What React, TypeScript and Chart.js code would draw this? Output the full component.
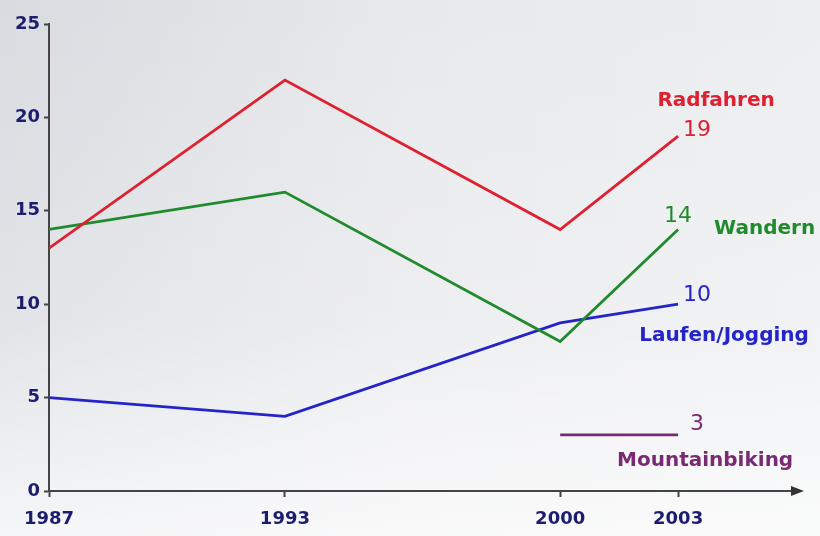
import React, { useEffect, useRef } from "react";
import { Chart, registerables } from "chart.js";

Chart.register(...registerables);

const years = [1987, 1993, 2000, 2003];
const radfahren = [13, 22, 14, 19];
const wandern = [14, 16, 8, 14];
const laufen = [5, 4, 9, 10];
const mountainbiking = [null, null, 3, 3];
const seriesNames = ["Radfahren", "Wandern", "Laufen/Jogging", "Mountainbiking"];
const seriesColors = ["#de2030", "#208a2c", "#2424c8", "#7a2a72"];
const endLabels = ["19", "14", "10", "3"];
const yTicks = [0, 5, 10, 15, 20, 25];

const FONT = "'DejaVu Sans', Verdana, sans-serif";
const TICK_COLOR = "#1c1d6c";

// label offsets relative to the last point of each series (style only)
const labelStyle = [
  { val: { dx: 5, dy: -6, align: "left" }, name: { dx: 38, dy: -35, align: "center" } },
  { val: { dx: 0, dy: -13, align: "center" }, name: { dx: 36, dy: -1, align: "left" } },
  { val: { dx: 5, dy: -9, align: "left" }, name: { dx: 46, dy: 32, align: "center" } },
  { val: { dx: 12, dy: -11, align: "left" }, name: { dx: 27, dy: 26, align: "center" } },
];

const toPoints = (vals: (number | null)[]) =>
  years.map((x, i) => ({ x, y: vals[i] })).filter((p) => p.y !== null);

const bgPlugin = {
  id: "bg",
  beforeDraw(chart: any) {
    const { ctx, width, height } = chart;
    ctx.save();
    const g = ctx.createLinearGradient(0, 0, width, 0);
    g.addColorStop(0, "#d8dbe0");
    g.addColorStop(0.5, "#e8e9ec");
    g.addColorStop(1, "#eceef0");
    ctx.fillStyle = g;
    ctx.fillRect(0, 0, width, height);
    const v = ctx.createLinearGradient(0, 0, 0, height);
    v.addColorStop(0, "rgba(255,255,255,0)");
    v.addColorStop(0.6, "rgba(255,255,255,0.25)");
    v.addColorStop(1, "rgba(255,255,255,0.75)");
    ctx.fillStyle = v;
    ctx.fillRect(0, 0, width, height);
    ctx.restore();
  },
};

const decoPlugin = {
  id: "deco",
  afterDraw(chart: any) {
    const { ctx, chartArea } = chart;
    const xs = chart.scales.x;
    const ys = chart.scales.y;
    ctx.save();
    // arrow on x axis
    const ay = ys.getPixelForValue(0);
    ctx.fillStyle = "#333";
    ctx.beginPath();
    ctx.moveTo(chartArea.right + 4, ay);
    ctx.lineTo(chartArea.right - 9, ay - 5);
    ctx.lineTo(chartArea.right - 9, ay + 5);
    ctx.closePath();
    ctx.fill();
    // series labels
    const datasets = [radfahren, wandern, laufen, mountainbiking];
    datasets.forEach((vals, i) => {
      const last = vals[vals.length - 1] as number;
      const px = xs.getPixelForValue(years[years.length - 1]);
      const py = ys.getPixelForValue(last);
      const st = labelStyle[i];
      ctx.fillStyle = seriesColors[i];
      ctx.textBaseline = "middle";
      ctx.font = `22px ${FONT}`;
      ctx.textAlign = st.val.align;
      ctx.fillText(endLabels[i], px + st.val.dx, py + st.val.dy);
      ctx.font = `bold 20px ${FONT}`;
      ctx.textAlign = st.name.align;
      ctx.fillText(seriesNames[i], px + st.name.dx, py + st.name.dy);
    });
    ctx.restore();
  },
};

export default function App() {
  const ref = useRef<HTMLCanvasElement | null>(null);
  useEffect(() => {
    if (!ref.current) return;
    const datasets = [radfahren, wandern, laufen, mountainbiking].map((vals, i) => ({
      label: seriesNames[i],
      data: toPoints(vals),
      borderColor: seriesColors[i],
      backgroundColor: seriesColors[i],
      borderWidth: 2.8,
      pointRadius: 0,
      tension: 0,
      fill: false,
    }));
    const chart = new Chart(ref.current, {
      type: "line",
      data: { datasets },
      plugins: [bgPlugin, decoPlugin],
      options: {
        animation: false,
        responsive: false,
        layout: { padding: { top: 24, right: 20, left: 0, bottom: 0 } },
        plugins: { legend: { display: false }, tooltip: { enabled: false } },
        scales: {
          x: {
            type: "linear",
            min: 1987,
            max: 2006.1,
            afterBuildTicks: (s: any) => {
              s.ticks = years.map((v) => ({ value: v }));
            },
            afterFit: (s: any) => {
              s.height = 45;
            },
            ticks: {
              autoSkip: false,
              maxRotation: 0,
              padding: 12,
              color: TICK_COLOR,
              font: { family: FONT, size: 18, weight: "bold" },
              callback: (v: any) => String(v),
            },
            grid: { drawOnChartArea: false, drawTicks: true, tickLength: 6, tickColor: "#444", tickWidth: 2 },
            border: { display: true, color: "#444", width: 2 },
          },
          y: {
            min: 0,
            max: 25,
            afterBuildTicks: (s: any) => {
              s.ticks = yTicks.map((v) => ({ value: v }));
            },
            afterFit: (s: any) => {
              s.width = 49;
            },
            ticks: {
              padding: 4,
              color: TICK_COLOR,
              font: { family: FONT, size: 18, weight: "bold" },
            },
            grid: { drawOnChartArea: false, drawTicks: true, tickLength: 5, tickColor: "#444", tickWidth: 2 },
            border: { display: true, color: "#444", width: 2 },
          },
        },
      },
    } as any);
    return () => chart.destroy();
  }, []);
  return (
    <div style={{ position: "absolute", left: 0, top: 0, width: 820, height: 536 }}>
      <canvas ref={ref} width={820} height={536} style={{ width: 820, height: 536, display: "block" }} />
    </div>
  );
}
